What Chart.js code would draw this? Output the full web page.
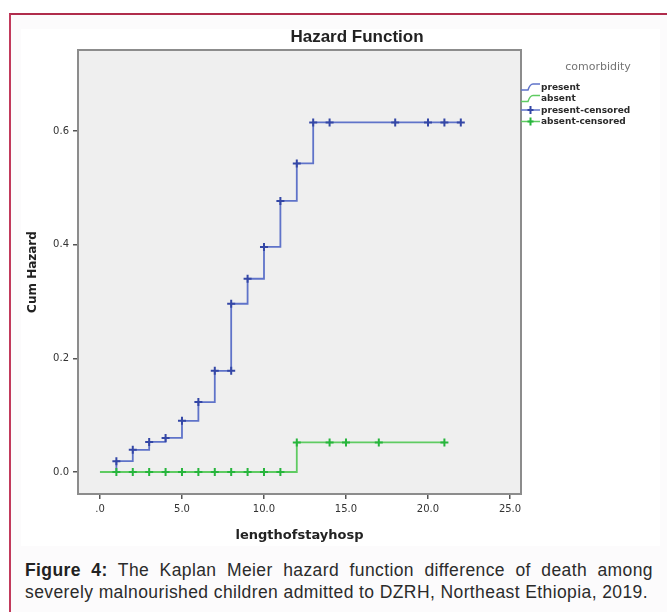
<!DOCTYPE html>
<html>
<head>
<meta charset="utf-8">
<script src="https://cdn.jsdelivr.net/npm/chart.js@4"></script>
<style>
  html, body { margin: 0; padding: 0; background: #ffffff; width: 667px; height: 612px; overflow: hidden; }
  #frame { position: absolute; left: 9px; top: 13px; width: 700px; height: 650px;
           border-left: 2px solid #c23a5c; border-top: 2px solid #b02c4c; background: #fcfbfc; }
  #box { position: absolute; left: 21px; top: 29px; width: 639px; height: 517px; background: #ffffff; }
  #caption { position: absolute; left: 25px; top: 559px; width: 628px;
             font-family: "Liberation Sans", Arial, sans-serif; font-size: 17.5px; line-height: 22px;
             letter-spacing: 0.4px; color: #2b2b2b; }
  #caption .l1 { text-align: justify; text-align-last: justify; white-space: nowrap; }
  #caption .l2 { white-space: nowrap; }
  #caption b { color: #222; }
</style>
</head>
<body>
<div id="frame"></div>
<div id="box"><canvas id="c" width="639" height="517"></canvas></div>
<div id="caption"><div class="l1"><b>Figure 4:</b> The Kaplan Meier hazard function difference of death among</div><div class="l2">severely malnourished children admitted to DZRH, Northeast Ethiopia, 2019.</div></div>
<script>
// ---- data ----
const presentTimes  = [0, 1, 2, 3, 4, 5, 6, 7, 8, 9, 10, 11, 12, 13, 22];
const presentHazard = [0, 0.019, 0.039, 0.053, 0.060, 0.090, 0.123, 0.178, 0.296, 0.340, 0.396, 0.477, 0.543, 0.615, 0.615];
const absentTimes   = [0, 12, 21];
const absentHazard  = [0, 0.052, 0.052];
const presentCensTimes  = [1, 2, 3, 4, 5, 6, 7, 8, 8, 9, 10, 11, 12, 13, 14, 18, 20, 21, 22];
const presentCensHazard = [0.019, 0.039, 0.053, 0.060, 0.090, 0.123, 0.178, 0.178, 0.296, 0.340, 0.396, 0.477, 0.543, 0.615, 0.615, 0.615, 0.615, 0.615, 0.615];
const absentCensTimes   = [1, 2, 3, 4, 5, 6, 7, 8, 9, 10, 11, 12, 14, 15, 17, 21];
const absentCensHazard  = [0, 0, 0, 0, 0, 0, 0, 0, 0, 0, 0, 0.052, 0.052, 0.052, 0.052, 0.052];
const xTickValues = [0, 5, 10, 15, 20, 25];
const xTickLabels = ['.0', '5.0', '10.0', '15.0', '20.0', '25.0'];
const yTickValues = [0, 0.2, 0.4, 0.6];
const yTickLabels = ['0.0', '0.2', '0.4', '0.6'];
const legendTitle = 'comorbidity';
const legendLabels = ['present', 'absent', 'present-censored', 'absent-censored'];
const chartTitle = 'Hazard Function';

const BLUE_LINE = '#5f73c9', BLUE_MARK = '#3447a6';
const GREEN_LINE = '#5fcb62', GREEN_MARK = '#27b53c';
const FONT = '"Liberation Sans", Arial, sans-serif';
const DFONT = '"DejaVu Sans", Verdana, sans-serif';

const pts = (xs, ys) => xs.map((x, i) => ({ x: x, y: ys[i] }));

const panelPlugin = {
  id: 'panel',
  beforeDraw(chart) {
    const { ctx, chartArea: a } = chart;
    ctx.save();
    ctx.fillStyle = '#efefef';
    ctx.fillRect(a.left, a.top, a.right - a.left, a.bottom - a.top);
    ctx.restore();
  },
  afterDraw(chart) {
    const { ctx, chartArea: a } = chart;
    ctx.save();
    ctx.strokeStyle = '#8c8c8c';
    ctx.lineWidth = 2;
    ctx.strokeRect(a.left, a.top, a.right - a.left, a.bottom - a.top);
    // title
    ctx.fillStyle = '#222';
    ctx.font = 'bold 17px ' + FONT;
    ctx.textAlign = 'center';
    ctx.textBaseline = 'middle';
    ctx.fillText(chartTitle, 336, 8);
    // legend
    const lx = a.right;
    ctx.font = '11px ' + DFONT;
    ctx.fillStyle = '#747474';
    ctx.textAlign = 'center';
    ctx.fillText(legendTitle, 577, 38);
    ctx.textAlign = 'left';
    const rows = [58, 69.5, 81, 92.5];
    const cols = [[BLUE_LINE, BLUE_MARK], [GREEN_LINE, GREEN_MARK], [BLUE_LINE, BLUE_MARK], [GREEN_LINE, GREEN_MARK]];
    ctx.font = 'bold 9px ' + DFONT;
    legendLabels.forEach((lab, i) => {
      const y = rows[i];
      ctx.strokeStyle = cols[i][0];
      ctx.lineWidth = 1.5;
      ctx.beginPath();
      if (i < 2) {
        ctx.moveTo(lx, y + 3);
        ctx.lineTo(lx + 7, y + 3);
        ctx.quadraticCurveTo(lx + 9, y - 3, lx + 12, y - 3);
        ctx.lineTo(lx + 19, y - 3);
        ctx.stroke();
      } else {
        ctx.moveTo(lx, y);
        ctx.lineTo(lx + 19, y);
        ctx.stroke();
        ctx.strokeStyle = cols[i][1];
        ctx.lineWidth = 2;
        ctx.beginPath();
        ctx.moveTo(lx + 9.5, y - 4); ctx.lineTo(lx + 9.5, y + 4);
        ctx.moveTo(lx + 6.5, y); ctx.lineTo(lx + 12.5, y);
        ctx.stroke();
      }
      ctx.fillStyle = '#2a2a2a';
      ctx.fillText(lab, lx + 20, y + 0.5);
    });
    ctx.restore();
  }
};

new Chart(document.getElementById('c'), {
  type: 'scatter',
  data: {
    datasets: [
      { label: 'absent-censored', data: pts(absentCensTimes, absentCensHazard), showLine: false,
        pointStyle: 'cross', pointRadius: 4, pointBorderWidth: 2, borderColor: GREEN_MARK, backgroundColor: GREEN_MARK, order: 0 },
      { label: 'present-censored', data: pts(presentCensTimes, presentCensHazard), showLine: false,
        pointStyle: 'cross', pointRadius: 4, pointBorderWidth: 2, borderColor: BLUE_MARK, backgroundColor: BLUE_MARK, order: 1 },
      { label: 'absent', data: pts(absentTimes, absentHazard), showLine: true, stepped: 'before',
        borderColor: GREEN_LINE, borderWidth: 1.8, pointRadius: 0, fill: false, order: 2 },
      { label: 'present', data: pts(presentTimes, presentHazard), showLine: true, stepped: 'before',
        borderColor: BLUE_LINE, borderWidth: 1.8, pointRadius: 0, fill: false, order: 3 }
    ]
  },
  options: {
    responsive: false,
    animation: false,
    devicePixelRatio: 1,
    layout: { padding: { left: 0, top: 21, right: 139, bottom: 0 } },
    plugins: { legend: { display: false }, title: { display: false }, tooltip: { enabled: false } },
    scales: {
      x: {
        type: 'linear', min: -1.34, max: 25.67,
        afterFit(s) { s.height = 52; },
        afterBuildTicks(s) { s.ticks = xTickValues.map(v => ({ value: v })); },
        grid: { drawOnChartArea: false, drawTicks: true, tickLength: 5, color: '#555', lineWidth: 1.5 },
        border: { display: false },
        ticks: { padding: 4, color: '#333', font: { family: DFONT, size: 10 },
                 callback(v) { const i = xTickValues.indexOf(v); return i >= 0 ? xTickLabels[i] : ''; } },
        title: { display: true, text: 'lengthofstayhosp', color: '#222',
                 font: { family: DFONT, size: 13, weight: 'bold' }, padding: { top: 0, bottom: 3 } }
      },
      y: {
        type: 'linear', min: -0.0387, max: 0.7425,
        afterFit(s) { s.width = 57; },
        afterBuildTicks(s) { s.ticks = yTickValues.map(v => ({ value: v })); },
        grid: { drawOnChartArea: false, drawTicks: true, tickLength: 5, color: '#555', lineWidth: 1.5 },
        border: { display: false },
        ticks: { padding: 4, color: '#333', font: { family: DFONT, size: 10 },
                 callback(v) { const i = yTickValues.indexOf(v); return i >= 0 ? yTickLabels[i] : ''; } },
        title: { display: true, text: 'Cum Hazard', color: '#222',
                 font: { family: DFONT, size: 12, weight: 'bold' }, padding: { top: 5, bottom: 0 } }
      }
    }
  },
  plugins: [panelPlugin]
});
</script>
</body>
</html>
